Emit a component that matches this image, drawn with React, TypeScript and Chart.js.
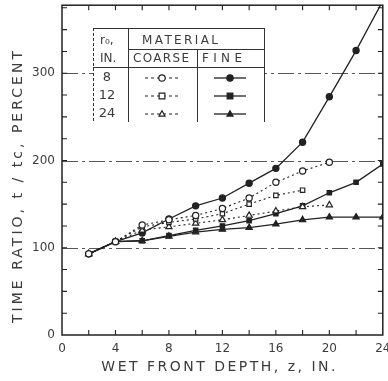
import React, { useEffect, useRef } from "react";
import { Chart, registerables } from "chart.js";

Chart.register(...registerables);

// ---- data ----
const depths = [2, 4, 6, 8, 10, 12, 14, 16, 18, 20, 22, 24];
const coarse8 = [93, 107, 126, 132, 137, 145, 157, 175, 188, 198];
const coarse12 = [93, 107, 124, 129, 133, 139, 150, 160, 166];
const coarse24 = [93, 107, 120, 124, 128, 132, 137, 142, 147, 149];
const fine8 = [93, 107, 117, 133, 148, 157, 174, 191, 221, 273, 326, 383];
const fine12 = [93, 107, 108, 114, 120, 125, 131, 139, 148, 163, 175, 196];
const fine24 = [93, 107, 108, 113, 118, 121, 123, 127, 132, 135, 135, 135];

const xTickLabels = [0, 4, 8, 12, 16, 20, 24];
const yTickLabels = [0, 100, 200, 300];
const referenceLines = [100, 200, 300];
const legendRadii = ["8", "12", "24"];
const legendHeader = ["r₀,", "IN.", "MATERIAL", "COARSE", "FINE"];
const xTitle = "WET FRONT DEPTH, z, IN.";
const yTitle = "TIME RATIO, t / tc, PERCENT";

const FONT = '"DejaVu Sans", sans-serif';
const INK = "#222";
const TEXT = "#3c3c3c";
const MARKERS = ["circle", "rect", "triangle"];

function toPoints(values: number[]) {
  return values.map((v, i) => ({ x: depths[i], y: v }));
}

function makeDataset(values: number[], marker: string, fine: boolean) {
  return {
    data: toPoints(values),
    showLine: true,
    borderColor: INK,
    borderWidth: fine ? 1.3 : 1.1,
    borderDash: fine ? [] : [2, 3],
    pointStyle: marker,
    pointRadius: marker === "triangle" ? 3.6 : 3.1,
    pointBackgroundColor: fine ? INK : "#fff",
    pointBorderColor: INK,
    pointBorderWidth: 1.2,
    tension: 0,
  };
}

function drawMarker(ctx: CanvasRenderingContext2D, kind: string, x: number, y: number, r: number, filled: boolean) {
  ctx.beginPath();
  if (kind === "circle") {
    ctx.arc(x, y, r, 0, Math.PI * 2);
  } else if (kind === "rect") {
    ctx.rect(x - r * 0.9, y - r * 0.9, r * 1.8, r * 1.8);
  } else {
    ctx.moveTo(x, y - r);
    ctx.lineTo(x + r * 0.95, y + r * 0.65);
    ctx.lineTo(x - r * 0.95, y + r * 0.65);
    ctx.closePath();
  }
  ctx.fillStyle = filled ? INK : "#fff";
  ctx.fill();
  ctx.lineWidth = 1.2;
  ctx.strokeStyle = INK;
  ctx.stroke();
}

function spacedText(
  ctx: CanvasRenderingContext2D,
  text: string,
  x: number,
  y: number,
  target: number,
  align: CanvasTextAlign
) {
  const anyCtx = ctx as any;
  anyCtx.letterSpacing = "0px";
  const w0 = ctx.measureText(text).width;
  const sp = Math.max(0, (target - w0) / Math.max(1, text.length - 1));
  anyCtx.letterSpacing = sp.toFixed(2) + "px";
  ctx.textAlign = align;
  const shift = align === "center" ? sp / 2 : 0;
  ctx.fillText(text, x + shift, y);
  anyCtx.letterSpacing = "0px";
}

const paperPlugin = {
  id: "paper",
  beforeDatasetsDraw(chart: any) {
    const { ctx, chartArea, scales } = chart;
    ctx.save();
    ctx.strokeStyle = "#555";
    ctx.lineWidth = 1;
    ctx.setLineDash([16, 4, 3, 4]);
    referenceLines.forEach((v) => {
      const y = Math.round(scales.y.getPixelForValue(v)) + 0.5;
      ctx.beginPath();
      ctx.moveTo(chartArea.left, y);
      ctx.lineTo(chartArea.right, y);
      ctx.stroke();
    });
    ctx.restore();
  },
  afterDraw(chart: any) {
    const { ctx, chartArea, scales } = chart;
    const { left, right, top, bottom } = chartArea;
    ctx.save();
    // frame
    ctx.strokeStyle = INK;
    ctx.lineWidth = 1.5;
    ctx.setLineDash([]);
    ctx.strokeRect(left, top, right - left, bottom - top);
    // inward ticks
    ctx.lineWidth = 1.1;
    const tl = 5;
    for (let v = 2; v < 24; v += 2) {
      const x = scales.x.getPixelForValue(v);
      ctx.beginPath();
      ctx.moveTo(x, bottom);
      ctx.lineTo(x, bottom - tl);
      ctx.moveTo(x, top);
      ctx.lineTo(x, top + tl);
      ctx.stroke();
    }
    for (let v = 25; v < scales.y.max; v += 25) {
      const y = scales.y.getPixelForValue(v);
      ctx.beginPath();
      ctx.moveTo(left, y);
      ctx.lineTo(left + tl, y);
      ctx.moveTo(right, y);
      ctx.lineTo(right - tl, y);
      ctx.stroke();
    }
    // axis titles
    ctx.fillStyle = TEXT;
    ctx.font = `14px ${FONT}`;
    ctx.textBaseline = "middle";
    spacedText(ctx, xTitle, (left + right) / 2 - 4, 367, 234, "center");
    ctx.save();
    ctx.translate(18, bottom - 12);
    ctx.rotate(-Math.PI / 2);
    spacedText(ctx, yTitle, 0, 0, 272, "left");
    ctx.restore();

    // legend table
    const tL = 93, c1 = 128, c2 = 197, tR = 264;
    const tT = 28, matLine = 49, headLine = 67, tB = 122;
    const rowsY = [78, 96, 114];
    ctx.fillStyle = "#fff";
    ctx.fillRect(tL, tT, tR - tL, tB - tT);
    ctx.strokeStyle = "#333";
    ctx.lineWidth = 1;
    ctx.beginPath();
    ctx.moveTo(tL, tT + 0.5); ctx.lineTo(tR, tT + 0.5);
    ctx.moveTo(c1, matLine + 0.5); ctx.lineTo(tR, matLine + 0.5);
    ctx.moveTo(tL, headLine + 0.5); ctx.lineTo(tR, headLine + 0.5);
    ctx.moveTo(c1 + 0.5, tT); ctx.lineTo(c1 + 0.5, tB);
    ctx.moveTo(c2 + 0.5, matLine); ctx.lineTo(c2 + 0.5, tB);
    ctx.moveTo(tR + 0.5, tT); ctx.lineTo(tR + 0.5, tB);
    ctx.stroke();
    ctx.setLineDash([3, 2]);
    ctx.beginPath();
    ctx.moveTo(tL + 0.5, tT); ctx.lineTo(tL + 0.5, tB);
    ctx.stroke();
    ctx.setLineDash([]);

    ctx.fillStyle = TEXT;
    ctx.font = `12px ${FONT}`;
    ctx.textBaseline = "middle";
    ctx.textAlign = "left";
    ctx.fillText(legendHeader[0], 100, 41);
    ctx.fillText(legendHeader[1], 100, 59);
    spacedText(ctx, legendHeader[2], 180, 41, 76, "center");
    spacedText(ctx, legendHeader[3], 161, 59, 56, "center");
    spacedText(ctx, legendHeader[4], 222, 59, 40, "center");
    legendRadii.forEach((r, i) => {
      const y = rowsY[i];
      ctx.fillStyle = TEXT;
      ctx.font = `13px ${FONT}`;
      ctx.textAlign = "center";
      ctx.fillText(r, 107, y);
      // coarse sample
      ctx.strokeStyle = INK;
      ctx.lineWidth = 1.1;
      ctx.setLineDash([3, 3]);
      ctx.beginPath();
      ctx.moveTo(145, y); ctx.lineTo(179, y);
      ctx.stroke();
      ctx.setLineDash([]);
      drawMarker(ctx, MARKERS[i], 162, y, 3.2, false);
      // fine sample
      ctx.lineWidth = 1.3;
      ctx.beginPath();
      ctx.moveTo(214, y); ctx.lineTo(246, y);
      ctx.stroke();
      drawMarker(ctx, MARKERS[i], 230, y, 3.2, true);
    });
    ctx.restore();
  },
};

export default function App() {
  const canvasRef = useRef<HTMLCanvasElement | null>(null);

  useEffect(() => {
    const canvas = canvasRef.current;
    if (!canvas) return;
    const chart = new Chart(canvas, {
      type: "line",
      data: {
        datasets: [
          makeDataset(coarse8, "circle", false),
          makeDataset(coarse12, "rect", false),
          makeDataset(coarse24, "triangle", false),
          makeDataset(fine8, "circle", true),
          makeDataset(fine12, "rect", true),
          makeDataset(fine24, "triangle", true),
        ] as any,
      },
      options: {
        animation: false,
        responsive: false,
        maintainAspectRatio: false,
        events: [],
        layout: { padding: { top: 5, right: 4, left: 0, bottom: 0 } },
        plugins: { legend: { display: false }, tooltip: { enabled: false } },
        scales: {
          x: {
            type: "linear",
            min: 0,
            max: 24,
            grid: { display: false, drawTicks: false },
            border: { display: false },
            ticks: {
              padding: 7,
              color: TEXT,
              font: { family: FONT, size: 12 },
              autoSkip: false,
              maxRotation: 0,
            },
            afterBuildTicks: (s: any) => {
              s.ticks = xTickLabels.map((v) => ({ value: v }));
            },
            afterFit: (s: any) => {
              s.height = 46;
              s.paddingLeft = 0;
              s.paddingRight = 0;
            },
          },
          y: {
            type: "linear",
            min: 0,
            max: 378,
            grid: { display: false, drawTicks: false },
            border: { display: false },
            ticks: {
              padding: 7,
              color: TEXT,
              font: { family: FONT, size: 12 },
              autoSkip: false,
            },
            afterBuildTicks: (s: any) => {
              s.ticks = yTickLabels.map((v) => ({ value: v }));
            },
            afterFit: (s: any) => {
              s.width = 62;
              s.paddingTop = 0;
              s.paddingBottom = 0;
            },
          },
        },
      } as any,
      plugins: [paperPlugin],
    });
    return () => chart.destroy();
  }, []);

  return (
    <div style={{ position: "absolute", left: 0, top: 0, width: 388, height: 381, background: "#fff" }}>
      <canvas ref={canvasRef} width={388} height={381} style={{ display: "block" }} />
    </div>
  );
}
